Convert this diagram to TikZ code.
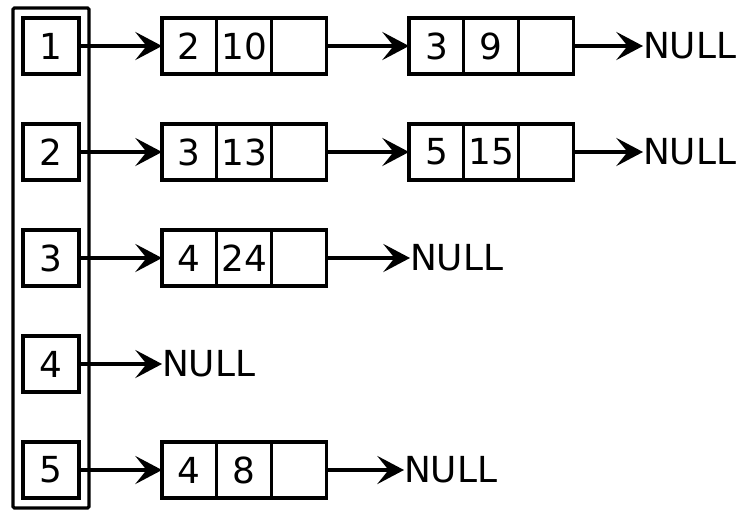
\documentclass[tikz,border=0pt]{standalone}
\usepackage{fontspec}
\setmainfont{DejaVu Sans}
\usepackage{tikz}
\usetikzlibrary{positioning,fit,arrows.meta}

\tikzset{
  idx/.style={draw, minimum width=1.4cm, minimum height=1.4cm, inner sep=0pt, outer sep=0pt},
  cell/.style={draw, minimum width=1.37cm, minimum height=1.4cm, inner sep=0pt, outer sep=0pt},
  ptr/.style={-{Stealth[length=19pt,width=20pt,inset=8pt]}},
  nul/.style={anchor=west, inner sep=0pt, outer sep=0pt}
}

\begin{document}
\begin{tikzpicture}[line width=2.3pt, font=\fontsize{25.5}{30}\selectfont]
  \useasboundingbox (0,0) rectangle (18.6,-12.725);
  \node[idx] (i1) at (1.275,-1.15) {1};
  \node[idx] (i2) at (1.275,-3.8) {2};
  \node[idx] (i3) at (1.275,-6.45) {3};
  \node[idx] (i4) at (1.275,-9.1) {4};
  \node[idx] (i5) at (1.275,-11.75) {5};
  \node[fit=(i1)(i5), draw, inner sep=0.25cm, rounded corners=1pt] (tab) {};
  % row 1
  \node[cell] (a1) at (4.735,-1.15) {2};
  \node[cell, right=0pt of a1] (a2) {10};
  \node[cell, right=0pt of a2] (a3) {};
  \node[cell] (b1) at (10.91,-1.15) {3};
  \node[cell, right=0pt of b1] (b2) {9};
  \node[cell, right=0pt of b2] (b3) {};
  \node[nul] (n1) at (16.075,-1.15) {NULL};
  % row 2
  \node[cell] (c1) at (4.735,-3.8) {3};
  \node[cell, right=0pt of c1] (c2) {13};
  \node[cell, right=0pt of c2] (c3) {};
  \node[cell] (d1) at (10.91,-3.8) {5};
  \node[cell, right=0pt of d1] (d2) {15};
  \node[cell, right=0pt of d2] (d3) {};
  \node[nul] (n2) at (16.075,-3.8) {NULL};
  % row 3
  \node[cell] (e1) at (4.735,-6.45) {4};
  \node[cell, right=0pt of e1] (e2) {24};
  \node[cell, right=0pt of e2] (e3) {};
  \node[nul] (n3) at (10.25,-6.45) {NULL};
  % row 4
  \node[nul] (n4) at (4.05,-9.1) {NULL};
  % row 5
  \node[cell] (f1) at (4.735,-11.75) {4};
  \node[cell, right=0pt of f1] (f2) {8};
  \node[cell, right=0pt of f2] (f3) {};
  \node[nul] (n5) at (10.1,-11.75) {NULL};
  \draw[ptr] (i1) -- (a1);
  \draw[ptr] (a3) -- (b1);
  \draw[ptr] (b3) -- (n1);
  \draw[ptr] (i2) -- (c1);
  \draw[ptr] (c3) -- (d1);
  \draw[ptr] (d3) -- (n2);
  \draw[ptr] (i3) -- (e1);
  \draw[ptr] (e3) -- (n3);
  \draw[ptr] (i4) -- (n4);
  \draw[ptr] (i5) -- (f1);
  \draw[ptr] (f3) -- (n5);
\end{tikzpicture}
\end{document}
